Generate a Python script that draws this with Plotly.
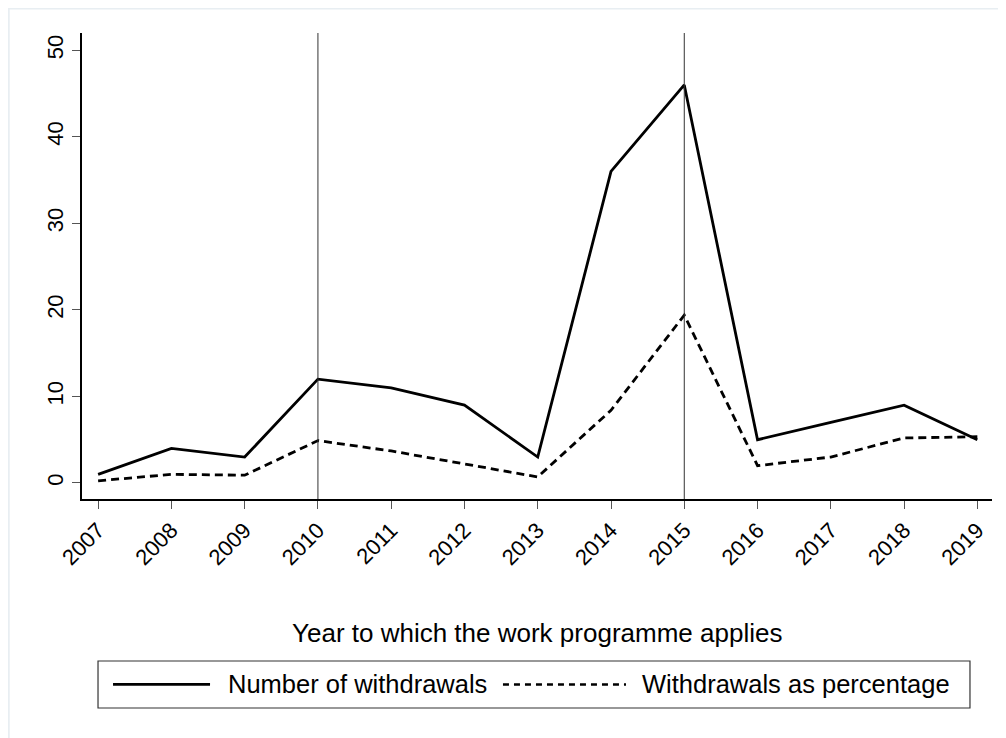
import plotly.graph_objects as go

years = [2007, 2008, 2009, 2010, 2011, 2012, 2013, 2014, 2015, 2016, 2017, 2018, 2019]
withdrawals = [1, 4, 3, 12, 11, 9, 3, 36, 46, 5, 7, 9, 5]
withdrawals_pct = [0.25, 1.0, 0.9, 4.9, 3.7, 2.2, 0.7, 8.4, 19.4, 2.0, 3.0, 5.2, 5.35]
marker_years = [2010, 2015]
y_ticks = [0, 10, 20, 30, 40, 50]
series_names = ['Number of withdrawals', 'Withdrawals as percentage']

font_family = "Liberation Sans, Arial, sans-serif"

fig = go.Figure()
fig.add_trace(go.Scatter(x=years, y=withdrawals, mode='lines', name=series_names[0],
                         line=dict(color='black', width=2.8)))
fig.add_trace(go.Scatter(x=years, y=withdrawals_pct, mode='lines', name=series_names[1],
                         line=dict(color='black', width=2.8, dash='8px,5px')))

for yr in marker_years:
    fig.add_shape(type='line', xref='x', yref='paper', x0=yr, x1=yr, y0=0, y1=1,
                  line=dict(color='#333333', width=1))

# faint outer frame of the graph region
fig.add_shape(type='rect', xref='paper', yref='paper', x0=-0.0805, x1=1.2, y0=-1.0, y1=1.0526,
              line=dict(color='#e8eef2', width=2), layer='below')

# axis title
fig.add_annotation(text='Year to which the work programme applies', xref='paper', yref='paper',
                   x=0.5, y=-0.2876, showarrow=False, yanchor='middle',
                   font=dict(size=26, color='black', family=font_family))

# legend box drawn by hand (Stata style: long keys, single row)
fig.add_shape(type='rect', xref='paper', yref='paper', x0=0.0176, x1=0.9758, y0=-0.4485, y1=-0.3476,
              line=dict(color='#333333', width=1.2), fillcolor='white')
leg_y = -0.398
fig.add_shape(type='line', xref='paper', yref='paper', x0=0.0341, x1=0.1407, y0=leg_y, y1=leg_y,
              line=dict(color='black', width=2.8))
fig.add_shape(type='line', xref='paper', yref='paper', x0=0.4626, x1=0.5978, y0=leg_y, y1=leg_y,
              line=dict(color='black', width=2.5, dash='6px,5px'))
for name, xpos in zip(series_names, [0.1582, 0.6132]):
    fig.add_annotation(text=name, xref='paper', yref='paper', x=xpos, y=leg_y, showarrow=False,
                       xanchor='left', yanchor='middle',
                       font=dict(size=25.5, color='black', family=font_family))

fig.update_layout(
    width=998, height=730,
    margin=dict(l=74, r=14, t=25, b=239),
    plot_bgcolor='white', paper_bgcolor='white',
    font=dict(family=font_family, color='black'),
    showlegend=False,
    xaxis=dict(range=[2006.78, 2019.2], tickvals=years, ticktext=[str(y) for y in years],
               tickangle=-45, ticks='outside', ticklen=8, tickcolor='#555555',
               showline=True, linecolor='black', linewidth=1.5, showgrid=False,
               zeroline=False, tickfont=dict(size=22)),
    yaxis=dict(range=[-1.85, 52], tickvals=y_ticks, tickangle=-90, ticks='outside',
               ticklen=8, tickcolor='#555555', showline=True, linecolor='black', linewidth=1.5,
               showgrid=False, zeroline=False, tickfont=dict(size=22)),
)

fig.write_html("out.html")
